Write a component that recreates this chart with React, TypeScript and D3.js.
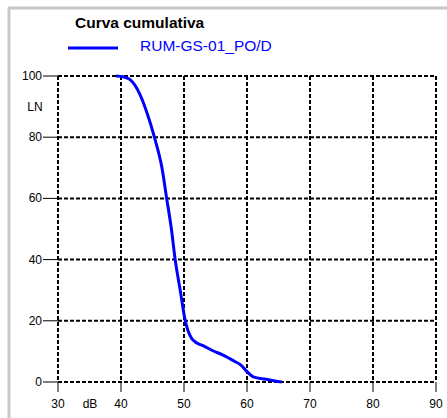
import React from "react";
import * as d3 from "d3";

// curve points (dB -> LN %)
const levels = [39.2, 40.5, 41.4, 42.2, 43.0, 44.2, 45.3, 46.5, 47.25, 48.0, 48.6, 49.4, 50.2, 50.6, 51.2, 52.0, 53.1, 54.5, 56.2, 58.0, 59.0, 60.0, 61.0, 63.0, 65.5];
const percent = [100, 99.7, 98.9, 97.0, 94.0, 87.5, 80, 70, 60, 50, 40, 30, 20, 17, 14.3, 12.8, 11.8, 10.3, 8.8, 6.8, 5.6, 3.4, 1.7, 0.9, 0];
const xTicks = [30, 40, 50, 60, 70, 80, 90];
const yTicks = [0, 20, 40, 60, 80, 100];
const title = "Curva cumulativa";
const seriesName = "RUM-GS-01_PO/D";

const App = () => {
    const width = 447;
    const height = 418;
    const left = 58, right = 436, top = 76, bottom = 382;

    const x = d3.scaleLinear().domain([30, 90]).range([left, right]);
    const y = d3.scaleLinear().domain([0, 100]).range([bottom, top]);

    const pts = levels.map((v, i) => [v, percent[i]] as [number, number]);
    const line = d3.line<[number, number]>()
        .x(d => x(d[0]))
        .y(d => y(d[1]))
        .curve(d3.curveMonotoneX);

    const font = "Arial, 'Liberation Sans', Helvetica, sans-serif";
    const dash = "4,2";

    return (
        <svg width={width} height={height} style={{ position: "absolute", left: 0, top: 0 }} fontFamily={font}>
            <rect x={0} y={0} width={width} height={height} fill="#fff" />
            {/* frame edges */}
            <line x1={8} x2={width} y1={8} y2={8} stroke="#c8c8c8" strokeWidth={3} />
            <line x1={9} x2={9} y1={8} y2={height} stroke="#c8c8c8" strokeWidth={3} />

            <text x={75} y={28} fontSize={15.5} fontWeight="bold" fill="#000">{title}</text>
            <line x1={68} x2={118} y1={48} y2={48} stroke="#0000ff" strokeWidth={3} />
            <text x={140} y={51} fontSize={15.5} fill="#0000ff">{seriesName}</text>

            {/* grid */}
            {yTicks.map(t => (
                <g key={"y" + t}>
                    <line x1={left} x2={right} y1={y(t)} y2={y(t)} stroke="#000" strokeWidth={2} strokeDasharray={dash} />
                    <line x1={43} x2={left} y1={y(t)} y2={y(t)} stroke="#000" strokeWidth={1} />
                    <text x={42} y={y(t) + 4} fontSize={12} textAnchor="end" fill="#000">{t}</text>
                </g>
            ))}
            {xTicks.map(t => (
                <g key={"x" + t}>
                    <line x1={x(t)} x2={x(t)} y1={top} y2={bottom} stroke="#000" strokeWidth={2} strokeDasharray={dash} />
                    <line x1={x(t)} x2={x(t)} y1={bottom} y2={392} stroke="#000" strokeWidth={1} />
                    <text x={x(t)} y={408} fontSize={12} textAnchor="middle" fill="#000">{t}</text>
                </g>
            ))}
            <text x={90} y={408} fontSize={12} textAnchor="middle" fill="#000">dB</text>
            <text x={35} y={111} fontSize={12} textAnchor="middle" fill="#000">LN</text>

            <path d={line(pts) || ""} fill="none" stroke="#0000ff" strokeWidth={3} />
        </svg>
    );
};

export default App;
